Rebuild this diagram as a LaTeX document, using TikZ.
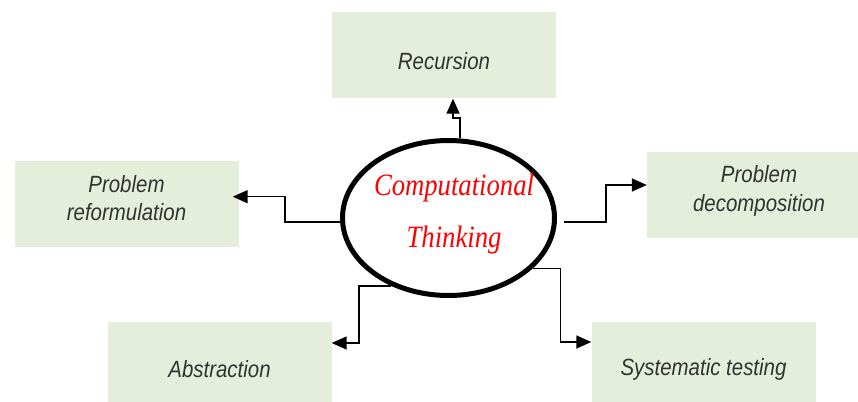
\documentclass[tikz,border=0pt]{standalone}
\usepackage{fontspec}
\setmainfont{Liberation Sans}
\newfontfamily\boxfont[FakeStretch=0.87]{Liberation Sans}
\newfontfamily\ctfont[FakeStretch=0.86]{Liberation Serif}
\usetikzlibrary{arrows.meta,shapes}
\definecolor{boxgreen}{RGB}{229,238,219}
\definecolor{boxtext}{RGB}{50,50,50}

\begin{document}
\begin{tikzpicture}[
        x=1pt, y=-1pt,
        topic/.style={fill=boxgreen, text=boxtext, align=center, minimum width=224pt, minimum height=86pt, inner sep=0pt, font=\boxfont\itshape\fontsize{23.5}{28.5}\selectfont},
        centre/.style={draw, ellipse, line width=5pt, minimum width=212pt, minimum height=155pt, inner sep=0pt},
        centretext/.style={text=red, align=center, inner sep=0pt, font=\ctfont\itshape\fontsize{31}{52}\selectfont},
        link/.style={-{Triangle[length=15pt,width=13pt]}, line width=1.5pt}
    ]
    \useasboundingbox (0,0) rectangle (858,401);

    % Nodes
    \node[centre] (ct) at (448.5,218) {};
    \node[centretext] (ctlabel) at (454,214) {Computational\\Thinking};

    \node[topic, text height=29pt, text depth=0pt] (rec) at (444,55.5) {Recursion};
    \node[topic, text depth=12pt] (ref) at (126.5,204) {Problem\\reformulation};
    \node[topic, text depth=12pt] (dec) at (759,194.5) {Problem\\decomposition};
    \node[topic, minimum height=94pt] (abs) at (219.5,369) {Abstraction};
    \node[topic, minimum height=94pt] (sys) at (703.5,369) {Systematic testing};

    % Edges
    \draw[link] ([xshift=11.5pt]ct.north) -- ++(0,-20) -| ([xshift=9pt]rec.south);
    \draw[link] ([yshift=-4pt]ct.west) -- ++(-55,0) |- ([xshift=-6pt,yshift=7.3pt]ref.east);
    \draw[link] ([xshift=7pt,yshift=-4pt]ct.east) -- ++(42,0) |- ([yshift=9.5pt]dec.west);
    \draw[link] (ct.230) -- ++(-32.5,0) |- ([yshift=26pt]abs.east);
    \draw[link] (ct.329) -- ++(28,0) |- ([yshift=27pt]sys.west);

\end{tikzpicture}
\end{document}
